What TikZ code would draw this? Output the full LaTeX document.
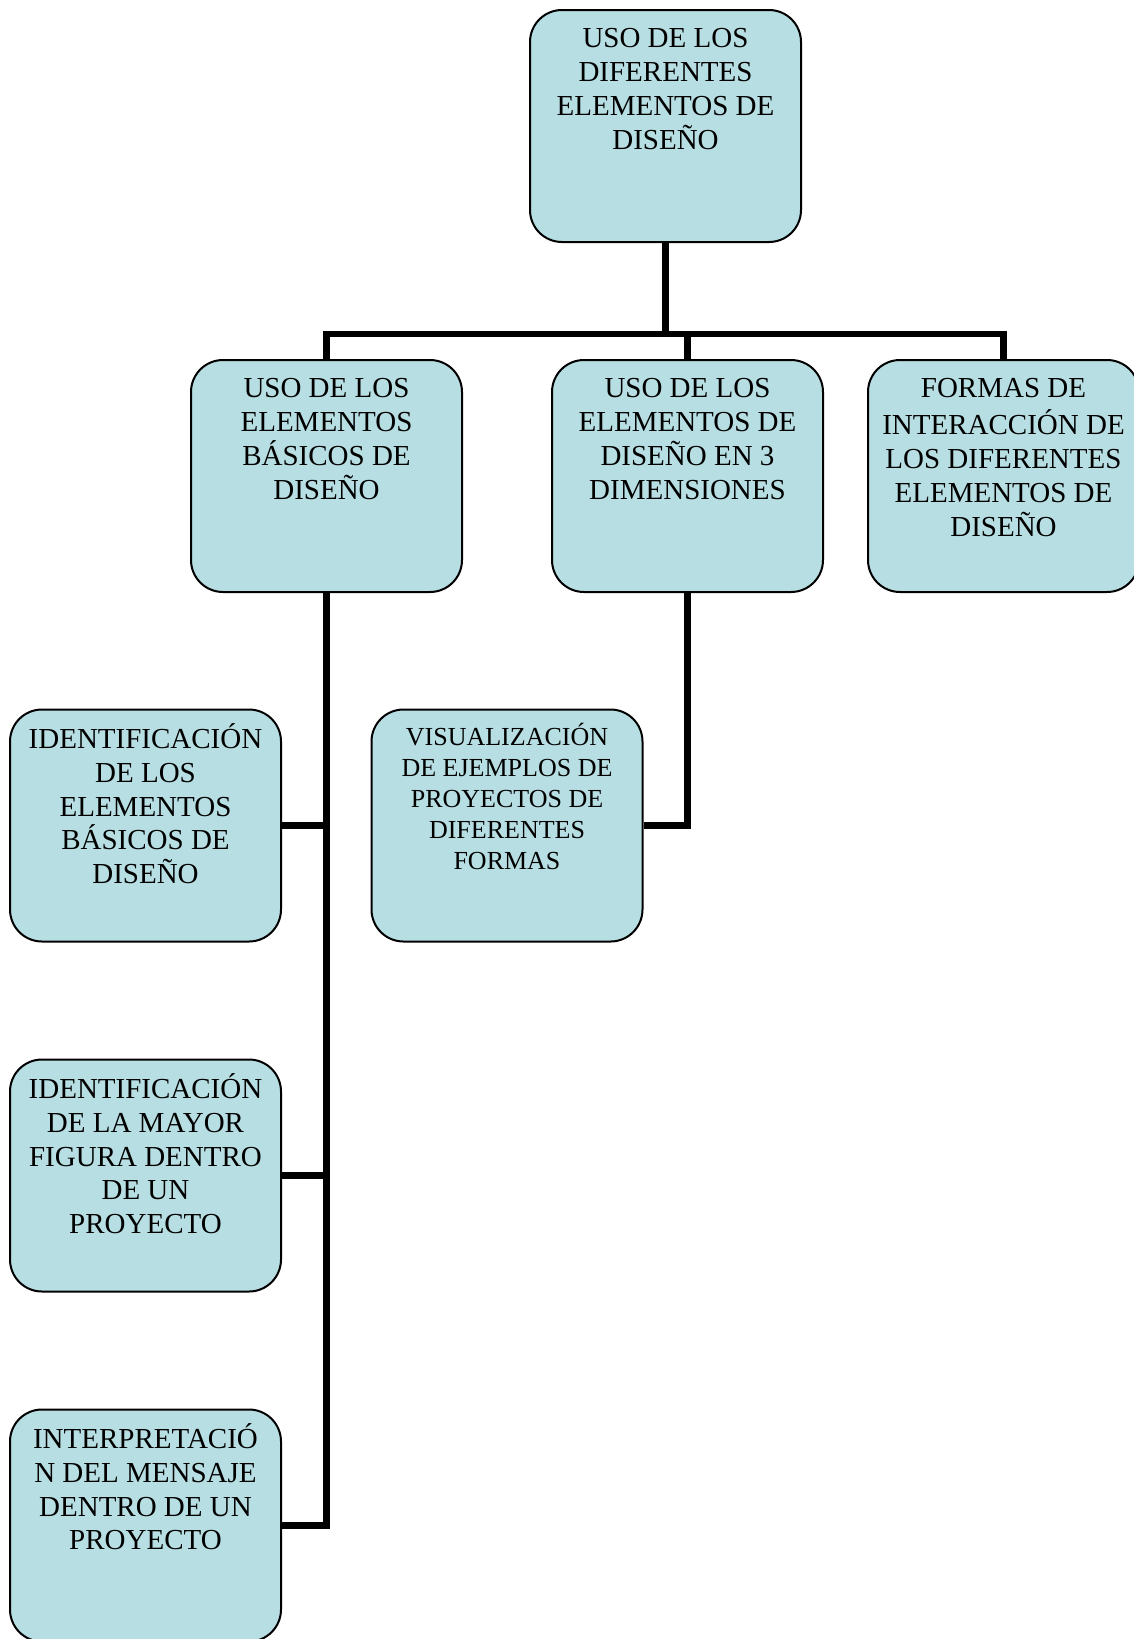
\documentclass[tikz,border=0pt]{standalone}
\usepackage{fontspec}
\setmainfont{Liberation Serif}
\usepackage{xcolor}
\usepackage{tikz}
\usetikzlibrary{calc}
\usetikzlibrary{positioning}
\definecolor{cajafondo}{RGB}{183,222,226}
\tikzset{caja/.style = {draw, line width = 1pt, fill = cajafondo, rounded corners = 16pt,
  inner xsep = 2.75pt, inner ysep = 8pt, font = \fontsize{14.5}{16.9}\selectfont,
  execute at begin node = {\begin{minipage}[c][100pt][t]{130pt}\vspace*{-1pt}\centering\strut},
  execute at end node = {\end{minipage}}}}
\tikzset{chica/.style = {font = \fontsize{13}{15.4}\selectfont}}
\tikzset{rama/.style = {-, line width = 3.4pt}}

\begin{document}
\begin{tikzpicture}[x = 0.5pt, y = -0.5pt]
\useasboundingbox (0, 0) rectangle (1134, 1639);
\node [caja] (R) at (665.5, 126) {USO DE LOS\\DIFERENTES\\ELEMENTOS DE\\DISEÑO};
\node [caja] (B1) at (326.5, 476) {USO DE LOS\\ELEMENTOS\\BÁSICOS DE\\DISEÑO};
\node [caja] (B2) at (687.5, 476) {USO DE LOS\\ELEMENTOS DE\\DISEÑO EN 3\\DIMENSIONES};
\node [caja] (B3) at (1003.5, 476) {FORMAS DE\\INTERACCIÓN DE\\LOS DIFERENTES\\ELEMENTOS DE\\DISEÑO};
\node [caja, chica] (V) at (507, 825.5) {VISUALIZACIÓN\\DE EJEMPLOS DE\\PROYECTOS DE\\DIFERENTES\\FORMAS};
\node [caja] (I1) at (145.5, 825.5) {IDENTIFICACIÓN\\DE LOS\\ELEMENTOS\\BÁSICOS DE\\DISEÑO};
\node [caja] (I2) at (145.5, 1175.5) {IDENTIFICACIÓN\\DE LA MAYOR\\FIGURA DENTRO\\DE UN\\PROYECTO};
\node [caja] (I3) at (145.5, 1525.5) {INTERPRETACIÓ\\N DEL MENSAJE\\DENTRO DE UN\\PROYECTO};
\coordinate (bus) at (0, 334);
\draw [rama] (R.south) to (R.south |- bus);
\draw [rama] (B1.north) |- (bus -| B3.north) -- (B3.north);
\draw [rama] (B2.north) to (B2.north |- bus);
\draw [rama] (B1.south) |- (I3.east);
\draw [rama] (I1.east) to (I1.east -| B1.south);
\draw [rama] (I2.east) to (I2.east -| B1.south);
\draw [rama] (B2.south) |- (V.east);
\end{tikzpicture}
\end{document}
